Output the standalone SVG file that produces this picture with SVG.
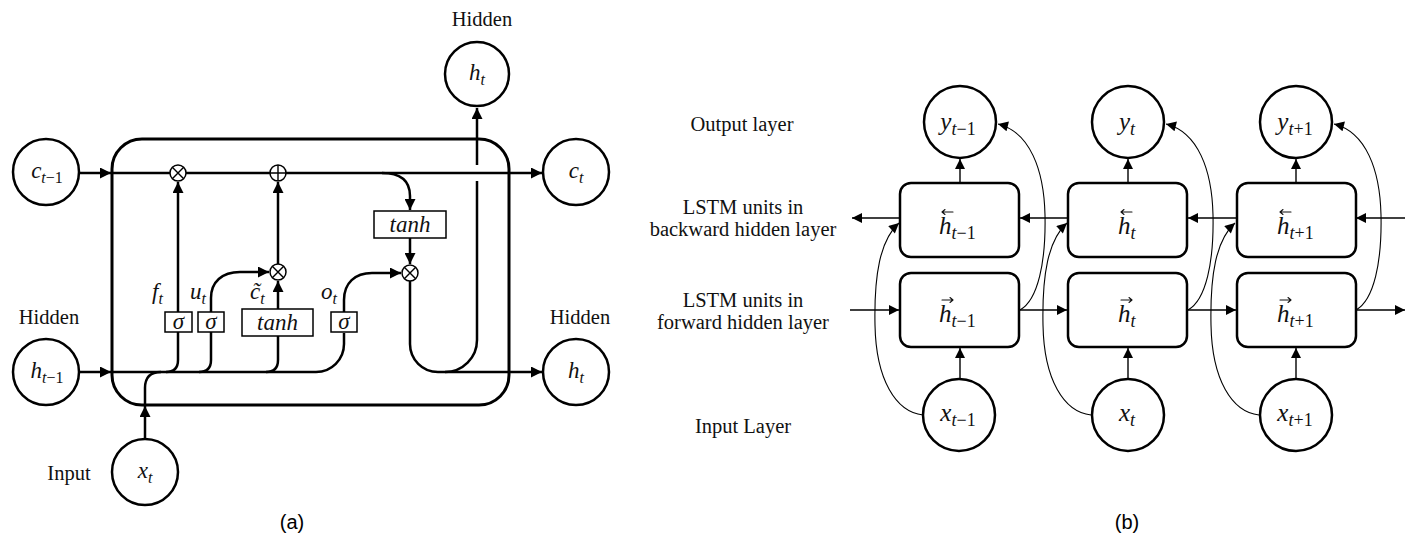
<svg xmlns="http://www.w3.org/2000/svg" width="1413" height="540" viewBox="0 0 1413 540">
<style>
.bg{fill:#fff}
.node{fill:#fff;stroke:#000;stroke-width:2.5}
.cell{fill:none;stroke:#000;stroke-width:3}
.gate{fill:#fff;stroke:#000;stroke-width:1.5}
.op{fill:#fff;stroke:#000;stroke-width:1.5}
.opl{stroke:#000;stroke-width:1.4;fill:none}
.ca{fill:none;stroke:#000;stroke-width:2.5}
.cb{fill:none;stroke:#000;stroke-width:1.4}
.cc{fill:none;stroke:#000;stroke-width:1.1}
.acc{fill:none;stroke:#111;stroke-width:1.1;stroke-linecap:round;stroke-linejoin:round}
.lbl{font-family:"Liberation Serif",serif;font-size:20.5px;fill:#111}
.m{font-family:"Liberation Serif",serif;font-style:italic;font-size:23px;fill:#111}
.mb{font-family:"Liberation Serif",serif;font-style:italic;font-size:25px;fill:#111}
.s{font-size:16px}
.sb{font-size:18px}
.up{font-style:normal}
.cap{font-family:"Liberation Sans",Arial,sans-serif;font-size:20px;fill:#000}
</style>
<defs>
<marker id="ah" viewBox="0 0 10 10" refX="10" refY="5" markerWidth="12" markerHeight="11" markerUnits="userSpaceOnUse" orient="auto">
<path d="M0,0 L10,5 L0,10 z" fill="#000"/>
</marker>
<marker id="ahb" viewBox="0 0 10 10" refX="10" refY="5" markerWidth="11" markerHeight="10" markerUnits="userSpaceOnUse" orient="auto">
<path d="M0,0 L10,5 L0,10 z" fill="#000"/>
</marker>
</defs>
<rect class="bg" x="0" y="0" width="1413" height="540"/>

<!-- ============ (a) LSTM cell ============ -->
<g id="a-connectors">
  <path class="ca" d="M79,173 L111,173" marker-end="url(#ah)"/>
  <path class="ca" d="M112,173 L542,173" marker-end="url(#ah)"/>
  <path class="ca" d="M79,372 L111,372" marker-end="url(#ah)"/>
  <path class="ca" d="M112,372 L316,372"/>
  <path class="ca" d="M145,439 L145,406" marker-end="url(#ah)"/>
  <path class="ca" d="M145,405 L145,388 Q145,372 161,372"/>
  <path class="ca" d="M166,372 Q178,372 178,360 L178,332"/>
  <path class="ca" d="M178,312 L178,182" marker-end="url(#ah)"/>
  <path class="ca" d="M199,372 Q211,372 211,360 L211,332"/>
  <path class="ca" d="M211,312 L211,298 C211,282 222,272 240,272 L269,272" marker-end="url(#ah)"/>
  <path class="ca" d="M266,372 Q278,372 278,360 L278,336"/>
  <path class="ca" d="M278,309 L278,281" marker-end="url(#ah)"/>
  <path class="ca" d="M278,264 L278,182" marker-end="url(#ah)"/>
  <path class="ca" d="M316,372 A28,28 0 0 0 344,344 L344,333"/>
  <path class="ca" d="M344,312 L344,300 C344,283 355,273 372,273 L401,273" marker-end="url(#ah)"/>
  <path class="ca" d="M382,173 Q410,173 410,196 L410,210" marker-end="url(#ah)"/>
  <path class="ca" d="M410,238 L410,264" marker-end="url(#ah)"/>
  <path class="ca" d="M410,281 L410,344 A28,28 0 0 0 438,372 L542,372" marker-end="url(#ah)"/>
  <path class="ca" d="M445,372 A32,32 0 0 0 477,340 L477,181"/>
  <path class="ca" d="M477,165 L477,108" marker-end="url(#ah)"/>
</g>

<g id="a-cell"><rect class="cell" x="112" y="139" width="397" height="266" rx="30"/></g>

<g id="a-mul1"><circle class="op" cx="178" cy="173" r="8"/><path class="opl" d="M172.3,167.3 L183.7,178.7 M183.7,167.3 L172.3,178.7"/></g>
<g id="a-add"><circle class="op" cx="278" cy="173" r="8"/><path class="opl" d="M270,173 L286,173 M278,165 L278,181"/></g>
<g id="a-mul2"><circle class="op" cx="278" cy="272" r="8"/><path class="opl" d="M272.3,266.3 L283.7,277.7 M283.7,266.3 L272.3,277.7"/></g>
<g id="a-mul3"><circle class="op" cx="410" cy="273" r="8"/><path class="opl" d="M404.3,267.3 L415.7,278.7 M415.7,267.3 L404.3,278.7"/></g>

<g id="a-sig-f"><rect class="gate" x="165" y="312" width="27" height="20"/><text class="m" x="178.5" y="329" text-anchor="middle" font-size="20">σ</text></g>
<g id="a-sig-u"><rect class="gate" x="198" y="312" width="26" height="20"/><text class="m" x="211" y="329" text-anchor="middle" font-size="20">σ</text></g>
<g id="a-tanh1"><rect class="gate" x="242" y="309" width="71" height="27"/><text class="m" x="277.5" y="330" text-anchor="middle">tanh</text></g>
<g id="a-sig-o"><rect class="gate" x="331" y="312" width="26" height="20"/><text class="m" x="344" y="329" text-anchor="middle" font-size="20">σ</text></g>
<g id="a-tanh2"><rect class="gate" x="374" y="211" width="72" height="27"/><text class="m" x="410" y="232" text-anchor="middle">tanh</text></g>

<g id="a-gate-labels">
  <text class="m" x="152" y="299">f<tspan class="s" dy="5">t</tspan></text>
  <text class="m" x="190" y="299">u<tspan class="s" dy="5">t</tspan></text>
  <text class="m" x="250" y="299">c̃<tspan class="s" dy="5">t</tspan></text>
  <text class="m" x="321" y="299">o<tspan class="s" dy="5">t</tspan></text>
</g>

<g id="a-c-prev"><circle class="node" cx="46" cy="172" r="33"/><text class="m" x="47" y="178" text-anchor="middle">c<tspan class="s" dy="5">t<tspan class="up">−1</tspan></tspan></text></g>
<g id="a-c-t"><circle class="node" cx="576" cy="172" r="33"/><text class="m" x="576" y="178" text-anchor="middle">c<tspan class="s" dy="5">t</tspan></text></g>
<g id="a-h-top"><circle class="node" cx="477" cy="74" r="32"/><text class="m" x="477" y="80" text-anchor="middle">h<tspan class="s" dy="5">t</tspan></text></g>
<g id="a-h-prev"><circle class="node" cx="46" cy="372" r="33"/><text class="m" x="47" y="378" text-anchor="middle">h<tspan class="s" dy="5">t<tspan class="up">−1</tspan></tspan></text></g>
<g id="a-h-t"><circle class="node" cx="576" cy="372" r="33"/><text class="m" x="576" y="378" text-anchor="middle">h<tspan class="s" dy="5">t</tspan></text></g>
<g id="a-x-t"><circle class="node" cx="145" cy="472" r="33"/><text class="m" x="145" y="478" text-anchor="middle">x<tspan class="s" dy="5">t</tspan></text></g>

<g id="a-labels">
  <text class="lbl" x="482" y="26" text-anchor="middle">Hidden</text>
  <text class="lbl" x="49" y="324" text-anchor="middle">Hidden</text>
  <text class="lbl" x="580" y="324" text-anchor="middle">Hidden</text>
  <text class="lbl" x="69" y="480" text-anchor="middle">Input</text>
  <text class="cap" x="292" y="529" text-anchor="middle">(a)</text>
</g>

<!-- ============ (b) Bidirectional LSTM ============ -->
<g id="b-connectors">
  <path class="cb" d="M960,183 L960,159" marker-end="url(#ahb)"/>
  <path class="cb" d="M1128,183 L1128,159" marker-end="url(#ahb)"/>
  <path class="cb" d="M1296,183 L1296,159" marker-end="url(#ahb)"/>
  <path class="cb" d="M960,379 L960,348" marker-end="url(#ahb)"/>
  <path class="cb" d="M1128,379 L1128,348" marker-end="url(#ahb)"/>
  <path class="cb" d="M1296,379 L1296,348" marker-end="url(#ahb)"/>
  <path class="cb" d="M900,218 L852,218" marker-end="url(#ahb)"/>
  <path class="cb" d="M1068,218 L1020,218" marker-end="url(#ahb)"/>
  <path class="cb" d="M1237,218 L1188,218" marker-end="url(#ahb)"/>
  <path class="cb" d="M1405,218 L1356,218" marker-end="url(#ahb)"/>
  <path class="cb" d="M850,310 L899,310" marker-end="url(#ahb)"/>
  <path class="cb" d="M1019,310 L1067,310" marker-end="url(#ahb)"/>
  <path class="cb" d="M1187,310 L1236,310" marker-end="url(#ahb)"/>
  <path class="cb" d="M1355,310 L1405,310" marker-end="url(#ahb)"/>
  <path class="cc" d="M1020,310 C1038,300 1046,262 1045,215 C1044,170 1030,132 998,124" marker-end="url(#ahb)"/>
  <path class="cc" d="M1188,310 C1206,300 1214,262 1213,215 C1212,170 1198,132 1166,124" marker-end="url(#ahb)"/>
  <path class="cc" d="M1356,310 C1374,300 1382,262 1381,215 C1380,170 1366,132 1334,124" marker-end="url(#ahb)"/>
  <path class="cc" d="M923,415 C896,412 876,380 875,325 C874,275 880,240 899,223" marker-end="url(#ahb)"/>
  <path class="cc" d="M1091,415 C1064,412 1044,380 1043,325 C1042,275 1048,240 1067,223" marker-end="url(#ahb)"/>
  <path class="cc" d="M1259,415 C1232,412 1212,380 1211,325 C1210,275 1216,240 1235,223" marker-end="url(#ahb)"/>
</g>

<g id="b-y1"><circle class="node" cx="960" cy="122" r="36"/><text class="mb" x="958" y="130" text-anchor="middle">y<tspan class="sb" dy="5">t<tspan class="up">−1</tspan></tspan></text></g>
<g id="b-y2"><circle class="node" cx="1128" cy="122" r="36"/><text class="mb" x="1127" y="130" text-anchor="middle">y<tspan class="sb" dy="5">t</tspan></text></g>
<g id="b-y3"><circle class="node" cx="1296" cy="122" r="36"/><text class="mb" x="1295" y="130" text-anchor="middle">y<tspan class="sb" dy="5">t<tspan class="up">+1</tspan></tspan></text></g>

<g id="b-hb1"><rect class="node" x="900" y="183" width="119" height="74" rx="11"/><path class="acc" d="M953,212 L942,212 M945,209.5 L942,212 L945,214.5"/><text class="mb" x="939" y="234">h<tspan class="sb" dy="5">t<tspan class="up">−1</tspan></tspan></text></g>
<g id="b-hb2"><rect class="node" x="1068" y="183" width="119" height="74" rx="11"/><path class="acc" d="M1132,212 L1121,212 M1124,209.5 L1121,212 L1124,214.5"/><text class="mb" x="1118" y="234">h<tspan class="sb" dy="5">t</tspan></text></g>
<g id="b-hb3"><rect class="node" x="1237" y="183" width="119" height="74" rx="11"/><path class="acc" d="M1291,212 L1280,212 M1283,209.5 L1280,212 L1283,214.5"/><text class="mb" x="1277" y="234">h<tspan class="sb" dy="5">t<tspan class="up">+1</tspan></tspan></text></g>

<g id="b-hf1"><rect class="node" x="900" y="273" width="119" height="74" rx="11"/><path class="acc" d="M942,300 L953,300 M950,297.5 L953,300 L950,302.5"/><text class="mb" x="939" y="322">h<tspan class="sb" dy="5">t<tspan class="up">−1</tspan></tspan></text></g>
<g id="b-hf2"><rect class="node" x="1068" y="273" width="119" height="74" rx="11"/><path class="acc" d="M1121,300 L1132,300 M1129,297.5 L1132,300 L1129,302.5"/><text class="mb" x="1118" y="322">h<tspan class="sb" dy="5">t</tspan></text></g>
<g id="b-hf3"><rect class="node" x="1237" y="273" width="119" height="74" rx="11"/><path class="acc" d="M1280,300 L1291,300 M1288,297.5 L1291,300 L1288,302.5"/><text class="mb" x="1277" y="322">h<tspan class="sb" dy="5">t<tspan class="up">+1</tspan></tspan></text></g>

<g id="b-x1"><circle class="node" cx="959" cy="415" r="36"/><text class="mb" x="958" y="421" text-anchor="middle">x<tspan class="sb" dy="5">t<tspan class="up">−1</tspan></tspan></text></g>
<g id="b-x2"><circle class="node" cx="1128" cy="415" r="36"/><text class="mb" x="1127" y="421" text-anchor="middle">x<tspan class="sb" dy="5">t</tspan></text></g>
<g id="b-x3"><circle class="node" cx="1296" cy="415" r="36"/><text class="mb" x="1295" y="421" text-anchor="middle">x<tspan class="sb" dy="5">t<tspan class="up">+1</tspan></tspan></text></g>

<g id="b-labels">
  <text class="lbl" x="742" y="131" text-anchor="middle">Output layer</text>
  <text class="lbl" x="743" y="214" text-anchor="middle">LSTM units in</text>
  <text class="lbl" x="743" y="236" text-anchor="middle">backward hidden layer</text>
  <text class="lbl" x="743" y="307" text-anchor="middle">LSTM units in</text>
  <text class="lbl" x="743" y="329" text-anchor="middle">forward hidden layer</text>
  <text class="lbl" x="743" y="433" text-anchor="middle">Input Layer</text>
  <text class="cap" x="1127" y="529" text-anchor="middle">(b)</text>
</g>
</svg>
